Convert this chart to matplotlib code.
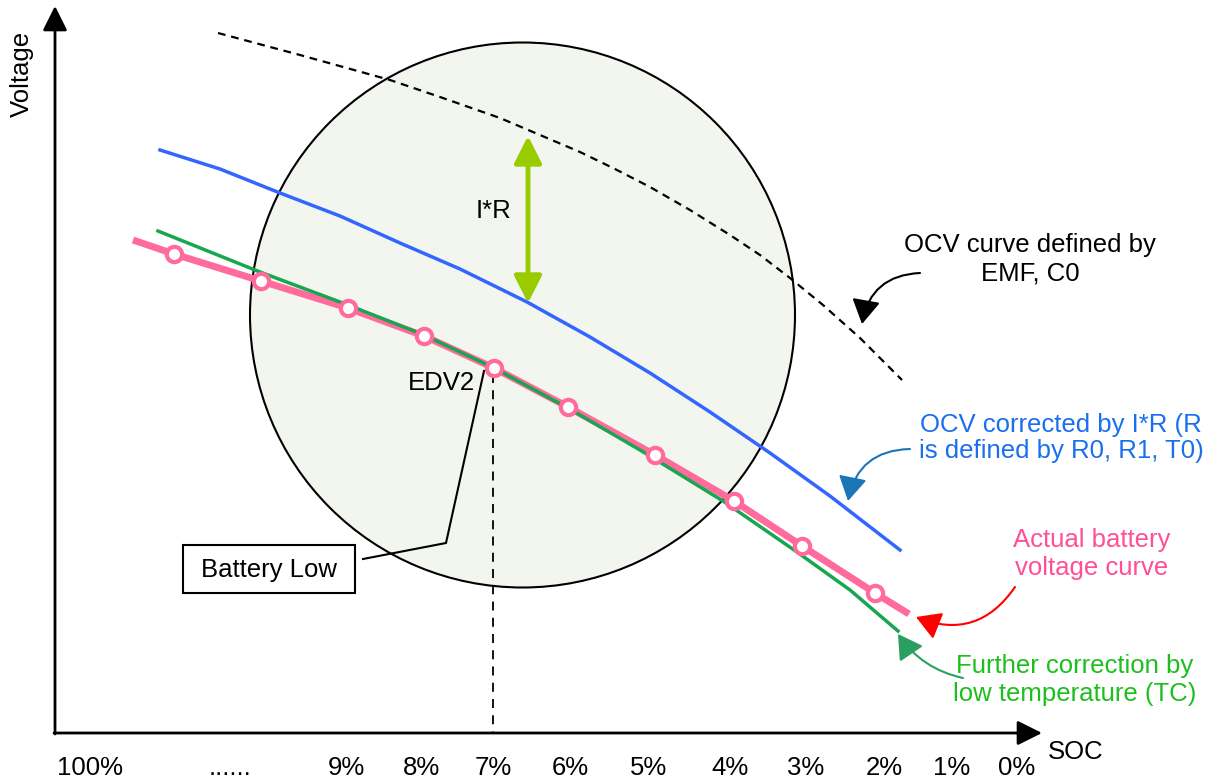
import matplotlib
matplotlib.use("Agg")
import matplotlib.pyplot as plt
from matplotlib.patches import Circle, Rectangle, FancyArrowPatch

plt.rcParams['font.family'] = ['Liberation Sans', 'DejaVu Sans']

# ---- data (diagram coordinates: x = horizontal position, y = screen-down position) ----
soc_labels = ["100%", "......", "9%", "8%", "7%", "6%", "5%", "4%", "3%", "2%", "1%", "0%"]
soc_label_x = [90, 230, 346, 422, 493, 570, 649, 730, 806, 884, 952, 1017]

ocv_x = [218, 300, 390, 440, 500, 580, 615, 650, 690, 730, 760, 790, 823, 860, 902]
ocv_y = [33, 55, 80, 97, 118, 152, 169, 187, 210, 235, 255, 278, 305, 338, 380]

ir_x = [160, 220, 280, 340, 400, 460, 527, 590, 650, 710, 770, 830, 900]
ir_y = [150, 169, 193, 216, 243, 269, 302, 337, 373, 412, 453, 496, 550]

actual_x = [133, 174, 261, 348, 424, 494, 568, 655, 734, 802, 875, 909]
actual_y = [240, 254, 281, 308, 336, 368, 407, 455, 501, 546, 593, 614]
marker_x = actual_x[1:-1]
marker_y = actual_y[1:-1]

tc_x = [158, 260, 348, 424, 494, 568, 640, 723, 797, 850, 898]
tc_y = [231, 272, 305, 335, 368, 408, 450, 501, 552, 590, 631]

edv2_x = 493
edv2_y = 368

W, H = 1214, 780
fig = plt.figure(figsize=(W / 100, H / 100), dpi=100)
ax = fig.add_axes([0, 0, 1, 1])
ax.set_xlim(0, W)
ax.set_ylim(H, 0)
ax.axis('off')

FS = 18.5

# highlight circle
ax.add_patch(Circle((522.5, 315), 272.5, facecolor='#F3F6EE', edgecolor='black', lw=1.5, zorder=1))

# axes arrows
ax.annotate('', xy=(55, 6), xytext=(55, 734),
            arrowprops=dict(arrowstyle='-|>,head_length=0.5,head_width=0.25', lw=2,
                            color='black', mutation_scale=30, shrinkA=0, shrinkB=0), zorder=5)
ax.annotate('', xy=(1042, 733), xytext=(54, 733),
            arrowprops=dict(arrowstyle='-|>,head_length=0.5,head_width=0.25', lw=2,
                            color='black', mutation_scale=30, shrinkA=0, shrinkB=0), zorder=5)
ax.text(22, 74, 'Voltage', rotation=90, ha='center', va='center', fontsize=FS)
ax.text(1048, 752, 'SOC', ha='left', va='center', fontsize=FS)
for lab, x in zip(soc_labels, soc_label_x):
    ax.text(x, 768, lab, ha='center', va='center', fontsize=FS)

# curves
ax.plot(ocv_x, ocv_y, color='black', lw=1.6, ls=(0, (3.5, 2.6)), zorder=3)
ax.plot(ir_x, ir_y, color='#3366FF', lw=2.5, zorder=3)
ax.plot(actual_x, actual_y, color='#FF6B9C', lw=5, zorder=3, solid_capstyle='butt')
ax.plot(tc_x, tc_y, color='#19A650', lw=2.5, zorder=4)
ax.plot(marker_x, marker_y, ls='none', marker='o', ms=11, mfc='white', mec='#FF6B9C',
        mew=3, zorder=5)

# EDV2 dashed drop line
ax.plot([edv2_x, edv2_x], [edv2_y + 6, 733], color='black', lw=1.3, ls=(0, (5, 4)), zorder=2)
ax.text(441, 383, 'EDV2', ha='center', va='center', fontsize=FS, zorder=6)

# Battery Low callout
ax.add_patch(Rectangle((183, 545), 172, 48, facecolor='white', edgecolor='black', lw=1.5, zorder=6))
ax.text(269, 570, 'Battery Low', ha='center', va='center', fontsize=FS, zorder=7)
ax.plot([363, 446, 484], [559, 543, 371], color='black', lw=1.5, zorder=6)

# I*R arrow
ax.annotate('', xy=(528, 136), xytext=(528, 303),
            arrowprops=dict(arrowstyle='<|-|>,head_length=0.55,head_width=0.28', lw=3.5,
                            color='#99CC00', mutation_scale=30, shrinkA=0, shrinkB=0), zorder=6)
ax.text(494, 211, 'I*R', ha='center', va='center', fontsize=FS, zorder=6)

# annotations
ax.text(1030, 259, 'OCV curve defined by\nEMF, C0', ha='center', va='center', fontsize=FS,
        linespacing=1.25, color='black')
ax.add_patch(FancyArrowPatch((920, 273), (862, 324), connectionstyle='arc3,rad=0.4',
                             arrowstyle='-|>,head_length=0.6,head_width=0.35', mutation_scale=25,
                             color='black', lw=1.5, shrinkA=0, shrinkB=0, zorder=6))

ax.text(1061, 438, 'OCV corrected by I*R (R\nis defined by R0, R1, T0)', ha='center', va='center',
        fontsize=FS, linespacing=1.15, color='#1A6EF0')
ax.add_patch(FancyArrowPatch((910, 449), (848, 501), connectionstyle='arc3,rad=0.4',
                             arrowstyle='-|>,head_length=0.6,head_width=0.35', mutation_scale=25,
                             color='#1A76B8', lw=1.5, shrinkA=0, shrinkB=0, zorder=6))

ax.text(1092, 554, 'Actual battery\nvoltage curve', ha='center', va='center', fontsize=FS,
        linespacing=1.2, color='#FF4F96')
ax.add_patch(FancyArrowPatch((1015, 587), (916, 617), connectionstyle='arc3,rad=-0.4',
                             arrowstyle='-|>,head_length=0.6,head_width=0.35', mutation_scale=25,
                             color='#FF0000', lw=1.5, shrinkA=0, shrinkB=0, zorder=6))

ax.text(1075, 680, 'Further correction by\nlow temperature (TC)', ha='center', va='center',
        fontsize=FS, linespacing=1.2, color='#1DBF1D')
ax.add_patch(FancyArrowPatch((963, 678), (898, 634), connectionstyle='arc3,rad=-0.2',
                             arrowstyle='-|>,head_length=0.6,head_width=0.35', mutation_scale=25,
                             color='#2A9F60', lw=1.5, shrinkA=0, shrinkB=0, zorder=6))

fig.savefig('out.png', dpi=100, facecolor='white')
